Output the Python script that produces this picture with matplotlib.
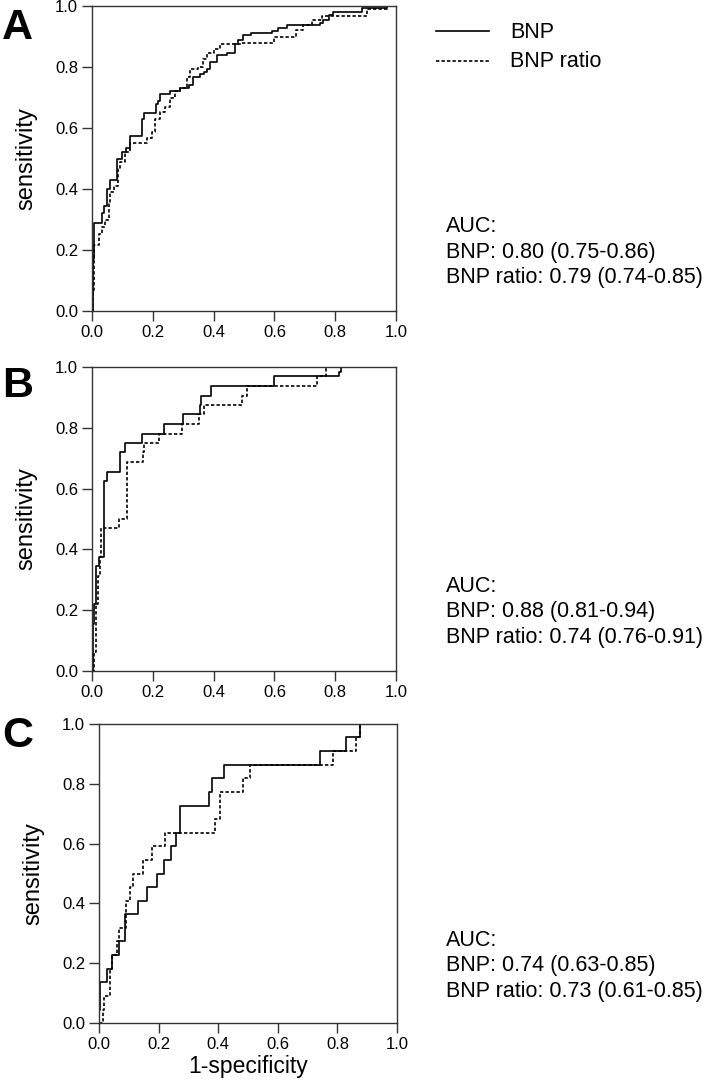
import matplotlib
matplotlib.use('Agg')
import matplotlib.pyplot as plt
from matplotlib.lines import Line2D

plt.rcParams['font.family'] = ['Liberation Sans', 'DejaVu Sans']

# ---------------- data ----------------
# Panel A
A_bnp_fpr = [0.003, 0.005, 0.008, 0.033, 0.041, 0.050, 0.060, 0.082, 0.099, 0.113, 0.124, 0.164, 0.172,
             0.210, 0.218, 0.225, 0.257, 0.290, 0.318, 0.332, 0.356, 0.367, 0.378, 0.389, 0.410, 0.444,
             0.472, 0.479, 0.498, 0.522, 0.591, 0.613, 0.643, 0.750, 0.760, 0.778, 0.794, 0.887, 0.970]
A_bnp_tpr = [0.17, 0.265, 0.29, 0.32, 0.345, 0.40, 0.43, 0.50, 0.52, 0.535, 0.575, 0.63, 0.65,
             0.68, 0.69, 0.713, 0.722, 0.73, 0.74, 0.768, 0.777, 0.785, 0.795, 0.817, 0.839, 0.845,
             0.875, 0.89, 0.905, 0.912, 0.919, 0.927, 0.938, 0.945, 0.955, 0.97, 0.98, 0.993, 1.0]
A_ratio_fpr = [0.003, 0.005, 0.022, 0.033, 0.044, 0.055, 0.060, 0.071, 0.084, 0.093, 0.110, 0.126, 0.180,
               0.197, 0.208, 0.225, 0.240, 0.257, 0.274, 0.290, 0.312, 0.323, 0.350, 0.365, 0.378, 0.400,
               0.420, 0.490, 0.600, 0.670, 0.695, 0.725, 0.755, 0.904, 0.970]
A_ratio_tpr = [0.07, 0.215, 0.254, 0.276, 0.30, 0.35, 0.39, 0.41, 0.467, 0.49, 0.52, 0.55, 0.566,
               0.588, 0.63, 0.653, 0.67, 0.697, 0.72, 0.73, 0.766, 0.795, 0.80, 0.825, 0.847, 0.858,
               0.875, 0.88, 0.90, 0.92, 0.937, 0.955, 0.968, 0.99, 1.0]

# Panel B
B_bnp_fpr = [0.003, 0.008, 0.014, 0.023, 0.038, 0.048, 0.093, 0.110, 0.164, 0.238, 0.300, 0.354,
             0.358, 0.390, 0.600, 0.812, 0.820]
B_bnp_tpr = [0.156, 0.219, 0.344, 0.375, 0.625, 0.656, 0.719, 0.750, 0.781, 0.812, 0.844, 0.875,
             0.906, 0.938, 0.969, 0.984, 1.0]
B_ratio_fpr = [0.005, 0.012, 0.019, 0.027, 0.031, 0.088, 0.115, 0.167, 0.172, 0.219, 0.296, 0.353,
               0.370, 0.493, 0.509, 0.739, 0.769]
B_ratio_tpr = [0.063, 0.219, 0.313, 0.375, 0.469, 0.500, 0.688, 0.719, 0.750, 0.781, 0.812, 0.844,
               0.875, 0.906, 0.938, 0.969, 1.0]

# Panel C
C_bnp_fpr = [0.000, 0.003, 0.028, 0.045, 0.067, 0.087, 0.132, 0.160, 0.196, 0.218, 0.240, 0.257,
             0.272, 0.370, 0.378, 0.419, 0.743, 0.828, 0.877]
C_bnp_tpr = [0.045, 0.136, 0.182, 0.227, 0.273, 0.364, 0.409, 0.455, 0.500, 0.545, 0.591, 0.636,
             0.727, 0.773, 0.818, 0.864, 0.909, 0.955, 1.0]
C_ratio_fpr = [0.012, 0.018, 0.037, 0.042, 0.061, 0.068, 0.090, 0.104, 0.115, 0.146, 0.177, 0.221,
               0.389, 0.406, 0.484, 0.506, 0.785, 0.864, 0.875]
C_ratio_tpr = [0.045, 0.091, 0.182, 0.227, 0.273, 0.318, 0.409, 0.455, 0.500, 0.545, 0.591, 0.636,
               0.682, 0.773, 0.818, 0.864, 0.909, 0.955, 1.0]

ticks = [0.0, 0.2, 0.4, 0.6, 0.8, 1.0]
tick_labels = ['0.0', '0.2', '0.4', '0.6', '0.8', '1.0']
panel_letters = ['A', 'B', 'C']
series_names = ['BNP', 'BNP ratio']
auc_texts = [
    ['AUC:', 'BNP: 0.80 (0.75-0.86)', 'BNP ratio: 0.79 (0.74-0.85)'],
    ['AUC:', 'BNP: 0.88 (0.81-0.94)', 'BNP ratio: 0.74 (0.76-0.91)'],
    ['AUC:', 'BNP: 0.74 (0.63-0.85)', 'BNP ratio: 0.73 (0.61-0.85)'],
]

# ---------------- layout ----------------
W, H = 709, 1080
fig = plt.figure(figsize=(W / 100, H / 100), dpi=100)


def fx(px):
    return px / W


def fy(py):
    return 1 - py / H


# (left, top, right, bottom) in pixels
boxes = [(92, 6, 396, 311), (92, 367, 396, 671), (99, 724, 397, 1023)]
auc_y = [(226, 252, 278), (586, 612, 638), (940, 966, 992)]
letter_y = [8, 366, 716]

data = [
    (A_bnp_fpr, A_bnp_tpr, A_ratio_fpr, A_ratio_tpr),
    (B_bnp_fpr, B_bnp_tpr, B_ratio_fpr, B_ratio_tpr),
    (C_bnp_fpr, C_bnp_tpr, C_ratio_fpr, C_ratio_tpr),
]

solid_kw = dict(color='black', lw=1.2, drawstyle='steps-post')
dash_kw = dict(color='black', lw=1.2, drawstyle='steps-post', linestyle=(0, (2.0, 1.3)))

for i, (l, t, r, b) in enumerate(boxes):
    ax = fig.add_axes([fx(l), fy(b), fx(r - l), (b - t) / H])
    bf, bt, rf, rt = data[i]
    ax.plot([0.0] + list(rf) + [1.0], [0.0] + list(rt) + [1.0], **dash_kw)
    ax.plot([0.0] + list(bf) + [1.0], [0.0] + list(bt) + [1.0], **solid_kw)
    ax.set_xlim(0, 1)
    ax.set_ylim(0, 1)
    ax.set_xticks(ticks)
    ax.set_xticklabels(tick_labels)
    ax.set_yticks(ticks)
    ax.set_yticklabels(tick_labels)
    ax.tick_params(direction='out', length=7, width=1.0, labelsize=12, pad=3, color='#333333')
    for s in ax.spines.values():
        s.set_linewidth(1.0)
        s.set_color('#333333')
    ax.set_ylabel('sensitivity', fontsize=17, labelpad=13)
    if i == 2:
        ax.set_xlabel('1-specificity', fontsize=16.5, labelpad=2)
    fig.text(fx(2), fy(letter_y[i]), panel_letters[i], fontsize=31, fontweight='bold',
             ha='left', va='top')
    for j, txt in enumerate(auc_texts[i]):
        fig.text(fx(446), fy(auc_y[i][j]), txt, fontsize=15.5, ha='left', va='center')

# legend
fig.add_artist(Line2D([fx(436), fx(489)], [fy(31), fy(31)], color='black', lw=1.2))
fig.add_artist(Line2D([fx(436), fx(489)], [fy(61), fy(61)], color='black', lw=1.2,
                      linestyle=(0, (2.0, 1.3))))
fig.text(fx(510), fy(32), series_names[0], fontsize=15.5, ha='left', va='center')
fig.text(fx(510), fy(62), series_names[1], fontsize=15.5, ha='left', va='center')

fig.savefig('out.png', dpi=100)
